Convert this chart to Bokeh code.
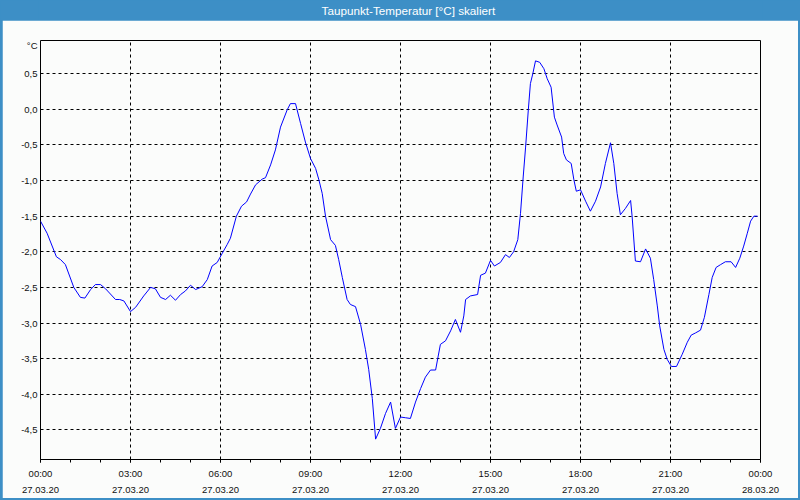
from bokeh.plotting import figure
from bokeh.models import Range1d, FixedTicker, ColumnDataSource
from bokeh.layouts import column
from bokeh.embed import file_html
from bokeh.resources import INLINE
from bokeh.core.properties import value

# ---------------- data ----------------
title_text = "Taupunkt-Temperatur [°C] skaliert"
unit_label = "°C"

# time of day in hours (27.03.20)
hours = [
    0.0, 0.22, 0.53, 0.67, 0.83, 1.11, 1.33, 1.48, 1.67, 1.83, 2.0, 2.17, 2.5, 2.64, 2.78,
    3.0, 3.17, 3.44, 3.67, 3.83, 4.0, 4.17, 4.33, 4.5, 4.67, 4.83, 5.0, 5.17, 5.39, 5.56,
    5.72, 5.89, 6.06, 6.22, 6.33, 6.53, 6.7, 6.87, 7.0, 7.17, 7.39, 7.5, 7.67, 7.83, 8.0,
    8.22, 8.33, 8.5, 8.67, 8.83, 9.0, 9.17, 9.28, 9.39, 9.5, 9.67, 9.83, 9.94, 10.06, 10.22,
    10.33, 10.5, 10.67, 10.83, 10.94, 11.06, 11.17, 11.33, 11.5, 11.67, 11.83, 12.0, 12.17,
    12.33, 12.5, 12.67, 12.83, 13.0, 13.17, 13.33, 13.5, 13.67, 13.83, 14.0, 14.11, 14.17,
    14.33, 14.57, 14.67, 14.83, 15.0, 15.13, 15.33, 15.5, 15.63, 15.77, 15.91, 16.0, 16.09,
    16.17, 16.26, 16.33, 16.41, 16.5, 16.64, 16.78, 16.89, 17.02, 17.13, 17.22, 17.37, 17.44,
    17.53, 17.69, 17.78, 17.86, 18.0, 18.17, 18.33, 18.5, 18.67, 18.83, 19.0, 19.11, 19.22,
    19.33, 19.5, 19.67, 19.72, 19.83, 20.0, 20.17, 20.33, 20.44, 20.56, 20.64, 20.78, 20.89,
    21.03, 21.2, 21.39, 21.56, 21.69, 21.83, 22.0, 22.13, 22.28, 22.39, 22.52, 22.67, 22.83,
    23.02, 23.17, 23.31, 23.44, 23.56, 23.67, 23.78, 23.9,
]
dewpoint = [
    -1.57, -1.74, -2.07, -2.11, -2.18, -2.50, -2.64, -2.65, -2.53, -2.46, -2.46, -2.52, -2.67, -2.67, -2.69,
    -2.84, -2.78, -2.62, -2.50, -2.52, -2.64, -2.67, -2.61, -2.68, -2.60, -2.55, -2.47, -2.53, -2.49, -2.39,
    -2.20, -2.15, -2.02, -1.90, -1.81, -1.50, -1.36, -1.30, -1.19, -1.06, -0.98, -0.96, -0.78, -0.57, -0.25,
    -0.01, 0.08, 0.08, -0.20, -0.46, -0.69, -0.83, -0.99, -1.18, -1.50, -1.83, -1.91, -2.11, -2.36, -2.67,
    -2.74, -2.77, -3.02, -3.37, -3.65, -4.06, -4.63, -4.48, -4.27, -4.11, -4.48, -4.32, -4.33,
    -4.34, -4.11, -3.92, -3.76, -3.66, -3.66, -3.30, -3.25, -3.11, -2.95, -3.13, -2.90, -2.67,
    -2.62, -2.60, -2.33, -2.30, -2.12, -2.20, -2.15, -2.04, -2.08, -2.00, -1.83, -1.46, -0.95,
    -0.53, -0.01, 0.36, 0.50, 0.68, 0.66, 0.57, 0.43, 0.31, -0.11, -0.22, -0.39, -0.62,
    -0.71, -0.76, -0.99, -1.15, -1.13, -1.29, -1.43, -1.29, -1.09, -0.76, -0.47, -0.76, -1.18,
    -1.48, -1.39, -1.28, -1.50, -2.13, -2.14, -1.96, -2.09, -2.39, -2.76, -3.04, -3.37, -3.51,
    -3.61, -3.61, -3.44, -3.27, -3.17, -3.14, -3.10, -2.92, -2.60, -2.36, -2.22, -2.18, -2.14,
    -2.14, -2.22, -2.09, -1.92, -1.74, -1.57, -1.50, -1.50,
]

x_major = [0, 3, 6, 9, 12, 15, 18, 21, 24]
x_minor = list(range(0, 25))
x_time_labels = ["00:00", "03:00", "06:00", "09:00", "12:00", "15:00", "18:00", "21:00", "00:00"]
x_date_labels = ["27.03.20"] * 8 + ["28.03.20"]

y_ticks = [-4.5, -4.0, -3.5, -3.0, -2.5, -2.0, -1.5, -1.0, -0.5, 0.0, 0.5]
y_tick_labels = ["-4,5", "-4,0", "-3,5", "-3,0", "-2,5", "-2,0", "-1,5", "-1,0", "-0,5", "0,0", "0,5"]

# ---------------- styling ----------------
BLUE = "#3d8fc6"
BG = "#fbfcfb"
FONT = "Liberation Sans"
UNIT_POS = 0.896

# title bar
tb = figure(width=800, height=20, x_range=Range1d(0, 800), y_range=Range1d(0, 20),
            toolbar_location=None, output_backend="svg", min_border=0,
            x_axis_location=None, y_axis_location=None,
            background_fill_color=BLUE, border_fill_color=BLUE, outline_line_color=None)
tb.grid.visible = False
tb.text(x=[408.7], y=[10], text=[title_text], text_color="white",
        text_font=value(FONT), text_font_size="11.7px",
        text_align="center", text_baseline="middle")

# main chart
p = figure(width=796, height=478, x_range=Range1d(0, 24), y_range=Range1d(-4.916, 0.966),
           toolbar_location=None, output_backend="svg",
           min_border_left=38, min_border_right=38, min_border_top=20, min_border_bottom=38,
           background_fill_color=BG, border_fill_color=BG,
           outline_line_color="black", outline_line_width=1)
p.margin = (0, 2, 2, 2)

src = ColumnDataSource(dict(h=hours, t=dewpoint))
p.line("h", "t", source=src, line_color="#0000ff", line_width=1)

# x axis
xa = p.xaxis[0]
xa.ticker = FixedTicker(ticks=x_major, minor_ticks=x_minor)
xa.major_label_overrides = {t: f"{a}\n{b}" for t, a, b in zip(x_major, x_time_labels, x_date_labels)}
xa.axis_line_color = None
xa.major_tick_in = 0
xa.major_tick_out = 3
xa.minor_tick_in = 0
xa.minor_tick_out = 3
xa.major_tick_line_color = "black"
xa.minor_tick_line_color = "black"
xa.major_label_standoff = 5
xa.major_label_text_font = FONT
xa.major_label_text_font_size = "9.5px"
xa.major_label_text_color = "#101010"
xa.major_label_text_line_height = 1.5

# y axis
ya = p.yaxis[0]
ya.ticker = FixedTicker(ticks=y_ticks + [UNIT_POS], minor_ticks=[])
overrides = {t: l for t, l in zip(y_ticks, y_tick_labels)}
overrides[UNIT_POS] = unit_label
ya.major_label_overrides = overrides
ya.axis_line_color = None
ya.major_tick_in = 0
ya.major_tick_out = 0
ya.minor_tick_in = 0
ya.minor_tick_out = 0
ya.major_label_standoff = 3
ya.major_label_text_font = FONT
ya.major_label_text_font_size = "9.5px"
ya.major_label_text_color = "#101010"

# grids
p.xgrid.ticker = FixedTicker(ticks=x_major[1:-1])
p.ygrid.ticker = FixedTicker(ticks=y_ticks)
for g in (p.xgrid, p.ygrid):
    g.grid_line_color = "black"
    g.grid_line_dash = "3 3"
    g.grid_line_width = 1

layout = column(tb, p, spacing=0, styles={"background-color": BLUE})

open("out.html", "w").write(file_html(layout, INLINE))
